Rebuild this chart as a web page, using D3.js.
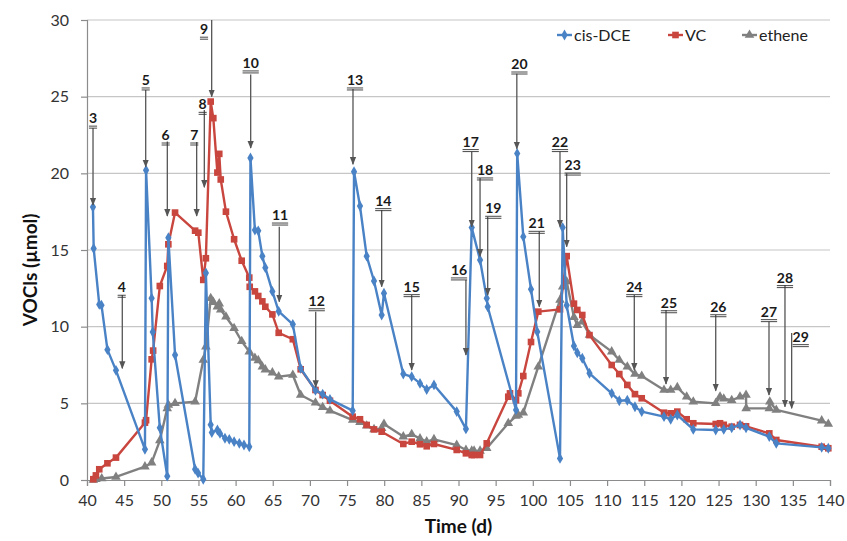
<!DOCTYPE html>
<html>
<head>
<meta charset="utf-8">
<script src="https://cdn.jsdelivr.net/npm/d3@7"></script>
<style>
  html, body { margin: 0; padding: 0; background: #fff; }
  svg { display: block; font-family: Lato, "Liberation Sans", sans-serif; }
</style>
</head>
<body>
<svg id="chart" width="847" height="541"></svg>
<script>
// ---------- data ----------
const cisTime = [40.8, 40.9, 41.65, 41.95, 42.75, 43.9, 47.8, 47.95, 48.7, 48.85, 49.8, 50.8, 50.95, 51.85,
  54.55, 54.95, 55.65, 56.0, 56.65, 56.8, 57.55, 57.9, 58.57, 59.15, 59.8, 60.5, 61.13, 61.84,
  62.0, 62.6, 63.05, 63.6, 64.0, 64.95, 65.8, 67.7, 68.76, 70.75, 71.72, 72.7, 75.76,
  75.94, 76.74, 77.64, 78.63, 79.66, 79.97, 82.57, 83.7, 84.82, 85.72, 86.7, 89.76, 91.0,
  91.78, 92.9, 93.8, 93.93, 97.74, 97.9, 98.72, 99.76, 100.6, 103.66,
  104.02, 104.56, 105.54, 105.99, 106.66, 107.63, 110.62, 111.64, 112.72, 113.75, 114.66,
  117.66, 118.56, 119.45, 121.6, 124.62, 125.7, 126.77, 127.89, 128.7, 131.83, 132.77, 138.88, 139.77];
const cisVal = [17.8, 15.1, 11.45, 11.4, 8.5, 7.15, 2.0, 20.2, 11.85, 9.65, 3.4, 0.25, 15.8, 8.15,
  0.7, 0.45, 0.05, 13.5, 3.6, 3.1, 3.26, 3.04, 2.72, 2.65, 2.5, 2.39, 2.28, 2.17,
  21.0, 16.3, 16.25, 14.6, 13.85, 12.3, 11.0, 10.15, 7.28, 5.85, 5.6, 5.26, 4.52,
  20.1, 17.87, 14.6, 12.98, 10.76, 12.18, 6.91, 6.74, 6.3, 5.9, 6.2, 4.46, 3.33,
  16.46, 14.35, 11.85, 11.3, 4.57, 21.3, 15.87, 12.44, 9.67, 1.41,
  16.46, 11.4, 8.74, 8.3, 7.94, 6.96, 5.65, 5.17, 5.2, 4.78, 4.46,
  4.13, 3.96, 4.24, 3.3, 3.26, 3.3, 3.4, 3.59, 3.4, 2.83, 2.39, 2.13, 2.07];

const vcTime = [40.85, 41.2, 41.65, 42.75, 43.9, 47.8, 47.95, 48.7, 48.9, 49.8, 50.8, 50.95, 51.85,
  54.55, 54.98, 55.65, 56.0, 56.65, 57.0, 57.55, 57.8, 58.0, 58.7, 59.8, 60.82, 61.84, 61.9,
  62.6, 63.05, 63.6, 64.0, 64.95, 65.8, 67.7, 68.76, 70.75, 71.72, 72.7, 75.76, 76.74, 77.64,
  78.63, 79.66, 82.57, 83.7, 84.82, 85.72, 86.7, 89.76, 91.0, 91.78, 92.1, 92.9, 93.8,
  96.7, 96.93, 97.74, 98.05, 98.72, 99.76, 100.74, 103.66, 104.56, 105.54, 105.99, 106.66, 107.63,
  110.62, 111.64, 112.72, 113.75, 114.66, 117.66, 118.56, 119.45, 120.71, 121.6, 124.62, 125.2,
  125.7, 126.77, 127.89, 128.7, 131.83, 132.77, 138.88, 139.77];
const vcVal = [0.05, 0.3, 0.7, 1.09, 1.46, 3.74, 3.9, 7.87, 8.44, 12.65, 13.96, 15.37, 17.44,
  16.26, 16.13, 13.05, 14.46, 24.68, 23.6, 20.05, 21.27, 19.6, 17.5, 15.7, 14.3, 13.2, 12.6,
  12.3, 12.0, 11.65, 11.3, 10.8, 9.6, 9.18, 7.22, 5.87, 5.54, 5.17, 4.13, 3.96, 3.59,
  3.3, 3.15, 2.35, 2.5, 2.33, 2.2, 2.35, 1.96, 1.74, 1.63, 1.63, 1.63, 2.39,
  5.43, 5.65, 5.2, 5.65, 6.78, 9.0, 10.98, 11.13, 14.6, 11.5, 11.09, 10.76, 9.45,
  7.5, 6.91, 6.2, 5.6, 5.33, 4.39, 4.35, 4.46, 3.96, 3.7, 3.65, 3.7,
  3.6, 3.48, 3.59, 3.5, 3.04, 2.61, 2.17, 2.07];

const ethTime = [40.85, 41.2, 41.98, 43.9, 47.8, 48.7, 49.8, 50.8, 50.95, 51.85, 54.55, 55.65, 56.0,
  56.65, 57.0, 57.55, 57.8, 58.0, 58.7, 59.8, 60.82, 61.84, 62.6, 63.05, 63.6, 64.0, 64.95, 65.8,
  67.7, 68.76, 70.75, 71.72, 72.7, 75.76, 76.74, 77.64, 78.63, 79.66, 79.97, 82.57, 83.7, 84.82,
  85.72, 86.7, 89.76, 91.0, 91.78, 92.1, 92.9, 93.8, 96.7, 97.74, 98.05, 98.72, 100.74, 103.66,
  104.02, 104.56, 105.54, 105.99, 106.66, 107.63, 110.62, 111.64, 112.72, 113.75, 114.66, 117.66,
  118.56, 119.45, 120.71, 121.6, 124.62, 125.2, 125.7, 126.77, 127.89, 128.7, 128.72, 131.83,
  131.9, 132.77, 138.88, 139.77];
const ethVal = [0.0, 0.05, 0.1, 0.2, 0.87, 1.13, 2.57, 4.67, 4.9, 5.0, 5.1, 7.83, 8.7,
  11.85, 11.6, 11.3, 11.5, 11.1, 10.65, 9.9, 9.05, 8.37, 7.96, 7.8, 7.39, 7.2, 7.0, 6.74,
  6.85, 5.54, 5.04, 4.74, 4.52, 3.91, 3.76, 3.54, 3.3, 3.37, 3.65, 2.83, 2.98, 2.7,
  2.5, 2.65, 2.28, 1.96, 1.9, 1.9, 1.9, 2.07, 3.7, 4.17, 4.24, 4.39, 7.39, 11.74,
  12.6, 12.94, 10.61, 10.1, 10.33, 9.46, 8.37, 7.83, 7.39, 6.91, 6.78, 5.87,
  5.87, 6.04, 5.43, 5.1, 5.0, 5.43, 5.3, 5.2, 5.43, 5.54, 4.67, 4.67,
  5.1, 4.57, 3.87, 3.65];

const seriesNames = ["cis-DCE", "VC", "ethene"];
const xTickValues = [40, 45, 50, 55, 60, 65, 70, 75, 80, 85, 90, 95, 100, 105, 110, 115, 120, 125, 130, 135, 140];
const yTickValues = [0, 5, 10, 15, 20, 25, 30];

// annotations (data units): label text, label time, label value, arrow time, arrow top, arrow bottom
const annText   = ["3","4","5","6","7","8","9","10","11","12","13","14","15","16","17","18","19","20","21","22","23","24","25","26","27","28","29"];
const annLabelT = [40.81,44.67,47.9,50.59,54.44,55.57,55.75,62.03,65.98,70.92,76.07,79.88,83.7,90.07,91.64,93.57,94.68,98.2,100.52,103.66,105.37,113.66,118.33,124.97,131.79,133.94,136.06];
const annLabelV = [23.6,12.57,26.09,22.5,22.5,24.5,29.4,27.2,17.28,11.69,26.09,18.22,12.61,13.7,22.07,20.22,17.72,27.13,16.74,22.07,20.54,12.61,11.56,11.3,10.98,13.2,9.35];
const annArrowT = [40.81,44.75,47.9,50.81,54.76,55.79,56.78,62.03,65.88,70.78,75.8,79.66,83.7,91.0,91.78,92.9,93.93,97.85,100.87,103.66,104.56,113.66,117.93,124.62,131.79,133.94,134.84];
const annArrowTop = [22.96,12.07,25.43,22.07,22.04,24.13,30.0,26.45,16.52,10.98,25.5,17.61,12.07,13.04,21.41,19.7,17.17,26.5,16.2,21.41,20.0,12.07,11.09,10.76,10.32,12.72,9.59];
const annArrowBot = [17.94,7.28,20.43,17.22,17.22,19.1,25.0,21.65,11.63,6.05,20.6,12.61,7.17,8.15,16.52,14.6,12.07,21.6,11.3,16.52,15.22,7.17,6.26,5.82,5.54,4.78,4.68];

// ---------- chart ----------
const svg = d3.select("#chart");
const x = d3.scaleLinear().domain([40, 140]).range([87, 830]);
const y = d3.scaleLinear().domain([0, 30]).range([480, 20]);

const colors = { "cis-DCE": "#4a82c6", "VC": "#c9463f", "ethene": "#808080" };
const axisColor = "#8c8c8c";
const gridColor = "#c6c6c6";

// gridlines
svg.append("g").selectAll("line").data(yTickValues.filter(v => v > 0)).join("line")
  .attr("x1", x(40)).attr("x2", x(140))
  .attr("y1", d => y(d)).attr("y2", d => y(d))
  .attr("stroke", gridColor).attr("stroke-width", 1.2);

// axes
const yAxis = d3.axisLeft(y).tickValues(yTickValues).tickSize(6).tickPadding(12).tickFormat(d3.format("d"));
const gy = svg.append("g").attr("transform", `translate(${x(40)},0)`).call(yAxis);
const xAxis = d3.axisBottom(x).tickValues(xTickValues).tickSize(6).tickPadding(9).tickFormat(d3.format("d"));
const gx = svg.append("g").attr("transform", `translate(0,${y(0)})`).call(xAxis);
[gx, gy].forEach(g => {
  g.select(".domain").attr("stroke", axisColor).attr("stroke-width", 1.2);
  g.selectAll(".tick line").attr("stroke", axisColor).attr("stroke-width", 1.2);
  g.selectAll(".tick text").attr("fill", "#333").attr("font-size", 16).attr("font-family", "Lato, sans-serif");
});

// titles
svg.append("text").attr("x", x(90)).attr("y", 533).attr("text-anchor", "middle")
  .attr("font-size", 19).attr("font-weight", "bold").attr("fill", "#111").text("Time (d)");
svg.append("text").attr("transform", `translate(37,${y(13.7)}) rotate(-90)`).attr("text-anchor", "middle")
  .attr("font-size", 19).attr("font-weight", "bold").attr("fill", "#111").text("VOCls (µmol)");

// series
const series = [
  { name: "cis-DCE", t: cisTime, v: cisVal, marker: d3.symbolDiamond, size: 34 },
  { name: "VC", t: vcTime, v: vcVal, marker: d3.symbolSquare, size: 44 },
  { name: "ethene", t: ethTime, v: ethVal, marker: d3.symbolTriangle, size: 40 }
];
const line = d3.line().x(d => x(d[0])).y(d => y(d[1]));

// draw in order ethene, VC, cis-DCE (cis on top)
[series[2], series[1], series[0]].forEach(s => {
  const pts = s.t.map((t, i) => [t, s.v[i]]);
  const g = svg.append("g");
  g.append("path").datum(pts).attr("d", line).attr("fill", "none")
    .attr("stroke", colors[s.name]).attr("stroke-width", 2.4).attr("stroke-linejoin", "round");
  g.selectAll("path.m").data(pts).join("path").attr("class", "m")
    .attr("transform", d => `translate(${x(d[0])},${y(d[1])})`)
    .attr("d", d3.symbol().type(s.marker).size(s.size))
    .attr("fill", colors[s.name]);
});

// annotations
const defs = svg.append("defs");
defs.append("marker").attr("id", "ah").attr("viewBox", "0 0 10 10").attr("refX", 9).attr("refY", 5)
  .attr("markerWidth", 6).attr("markerHeight", 6).attr("orient", "auto")
  .append("path").attr("d", "M0,1 L10,5 L0,9 Z").attr("fill", "#555");

const ann = svg.append("g");
annText.forEach((txt, i) => {
  ann.append("line")
    .attr("x1", x(annArrowT[i])).attr("x2", x(annArrowT[i]))
    .attr("y1", y(annArrowTop[i])).attr("y2", y(annArrowBot[i]))
    .attr("stroke", "#555").attr("stroke-width", 1.3).attr("marker-end", "url(#ah)");
  const t = ann.append("text").attr("x", x(annLabelT[i])).attr("y", y(annLabelV[i]) + 5)
    .attr("text-anchor", "middle").attr("font-size", 14).attr("font-weight", "bold")
    .attr("fill", "#1a1a1a").text(txt);
  const bb = t.node().getBBox();
  [3, 5].forEach(off => {
    ann.append("line").attr("x1", bb.x).attr("x2", bb.x + bb.width)
      .attr("y1", y(annLabelV[i]) + 5 + off).attr("y2", y(annLabelV[i]) + 5 + off)
      .attr("stroke", "#333").attr("stroke-width", 0.9);
  });
});

// legend
const legendX = [557, 668, 742];
const legend = svg.append("g");
series.forEach((s, i) => {
  const g = legend.append("g").attr("transform", `translate(${legendX[i]},35)`);
  g.append("line").attr("x1", 0).attr("x2", 15).attr("stroke", colors[s.name]).attr("stroke-width", 2.4);
  g.append("path").attr("transform", "translate(7.5,0)")
    .attr("d", d3.symbol().type(s.marker).size(s.size)).attr("fill", colors[s.name]);
  g.append("text").attr("x", 17).attr("y", 5.5).attr("font-size", 16).attr("fill", "#222").text(s.name);
});
</script>
</body>
</html>
